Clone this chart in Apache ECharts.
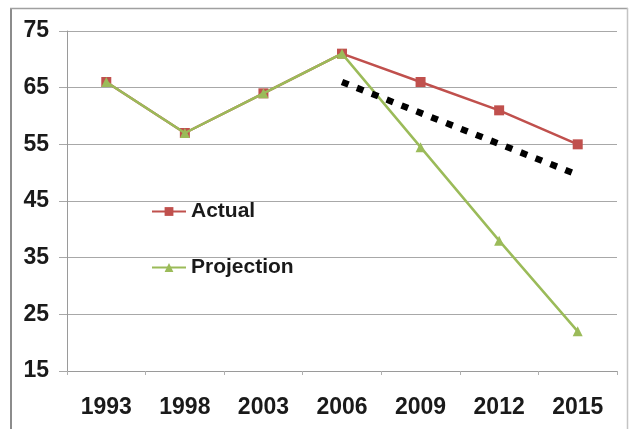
<!DOCTYPE html>
<html>
<head>
<meta charset="utf-8">
<script src="https://cdn.jsdelivr.net/npm/echarts@6/dist/echarts.min.js"></script>
<style>
  html, body { margin: 0; padding: 0; background: #fff; }
  #chart { width: 633px; height: 429px; }
</style>
</head>
<body>
<div id="chart"></div>
<script>
// Years on the horizontal axis
const years = ['1993', '1998', '2003', '2006', '2009', '2012', '2015'];
// Observed values
const actual = [66, 57, 64, 71, 66, 61, 55];
// Projected path after 2006
const projection = [66, 57, 64, 71, 54.5, 38, 22];
// Dotted trend guide: [position along the year axis (category centre = index + 0.5), value]
const trendGuide = [[3.5, 66], [6.43, 50]];
// Value axis settings
const yMin = 15, yMax = 75, yStep = 10;

const font = 'Liberation Sans, Arial, sans-serif';
const chart = echarts.init(document.getElementById('chart'));

chart.setOption({
  animation: false,
  backgroundColor: '#fff',
  graphic: [
    // chart frame: darker left edge, lighter top and right edges
    { type: 'line', shape: { x1: 11, y1: 8, x2: 11, y2: 429 }, style: { stroke: '#8c8c8c', lineWidth: 2 }, silent: true },
    { type: 'line', shape: { x1: 10, y1: 8.5, x2: 628, y2: 8.5 }, style: { stroke: '#a0a0a0', lineWidth: 1.5 }, silent: true },
    { type: 'line', shape: { x1: 627.5, y1: 8, x2: 627.5, y2: 429 }, style: { stroke: '#c4c4c4', lineWidth: 1.5 }, silent: true }
  ],
  grid: { left: 67, top: 31, right: 16, bottom: 58, containLabel: false },
  legend: {
    orient: 'vertical',
    left: 146,
    top: 196,
    itemWidth: 34,
    itemHeight: 11,
    itemGap: 35,
    textStyle: { fontFamily: font, fontWeight: 'bold', fontSize: 21, color: '#1a1a1a' },
    data: ['Actual', 'Projection']
  },
  xAxis: [{
    type: 'category',
    data: years,
    boundaryGap: true,
    axisLine: { lineStyle: { color: '#9a9a9a', width: 1 } },
    axisTick: { show: true, length: 4, lineStyle: { color: '#b0b0b0' } },
    axisLabel: { fontFamily: font, fontWeight: 'bold', fontSize: 23, color: '#1a1a1a', margin: 25 }
  }, {
    type: 'value',
    min: 0, max: years.length,
    show: false
  }],
  yAxis: {
    type: 'value',
    min: yMin, max: yMax, interval: yStep,
    axisLine: { show: true, lineStyle: { color: '#9a9a9a', width: 1 } },
    axisTick: { show: true, length: 8, lineStyle: { color: '#a8a8a8' } },
    splitLine: { lineStyle: { color: '#a8a8a8', width: 1 } },
    axisLabel: { fontFamily: font, fontWeight: 'bold', fontSize: 23, color: '#1a1a1a', margin: 18 }
  },
  series: [{
    name: 'Actual',
    type: 'line',
    data: actual,
    symbol: 'rect',
    symbolSize: 10,
    itemStyle: { color: '#C0504D' },
    lineStyle: { color: '#C0504D', width: 2.5 },
    z: 2
  }, {
    name: 'Projection',
    type: 'line',
    data: projection,
    symbol: 'triangle',
    symbolSize: 10,
    itemStyle: { color: '#9BBB59' },
    lineStyle: { color: '#9BBB59', width: 2.5 },
    z: 3
  }, {
    name: 'Trend',
    type: 'line',
    xAxisIndex: 1,
    data: trendGuide,
    symbol: 'none',
    lineStyle: { color: '#000', width: 6.5, type: [7, 9], cap: 'butt' },
    z: 4
  }]
});
</script>
</body>
</html>
